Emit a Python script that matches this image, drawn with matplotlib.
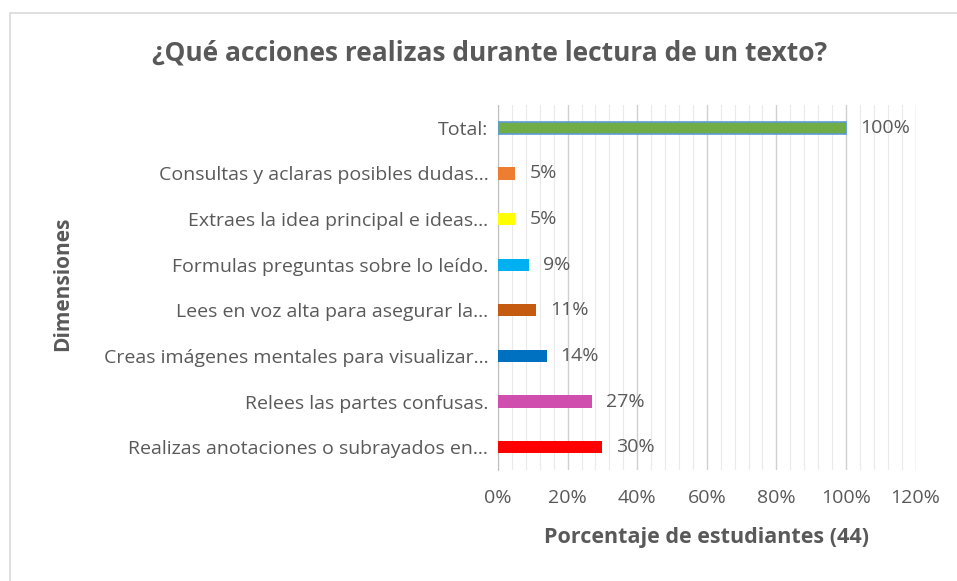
import matplotlib.pyplot as plt
from matplotlib.ticker import MultipleLocator, PercentFormatter
from matplotlib.patches import Rectangle

# Data (bottom to top)
categories = [
    "Realizas anotaciones o subrayados en...",
    "Relees las partes confusas.",
    "Creas imágenes mentales para visualizar...",
    "Lees en voz alta para asegurar la...",
    "Formulas preguntas sobre lo leído.",
    "Extraes la idea principal e ideas...",
    "Consultas y aclaras posibles dudas...",
    "Total:",
]
values = [30, 27, 14, 11, 9, 5, 5, 100]
colors = ["#FF0000", "#D04FAE", "#0070C0", "#C55A11",
          "#00B0F0", "#FFFF00", "#ED7D31", "#70AD47"]

plt.rcParams['font.family'] = ['Open Sans', 'DejaVu Sans']
gray = "#595959"

fig = plt.figure(figsize=(9.57, 5.81), dpi=100)
ax = fig.add_axes([0.5204, 0.191, 0.4363, 0.6283])

bars = ax.barh(categories, values, height=0.27, color=colors, zorder=3)
bars[-1].set_edgecolor("#5B9BD5")
bars[-1].set_linewidth(1.2)

ax.set_xlim(0, 120)
ax.set_ylim(-0.5, len(categories) - 0.5)
ax.xaxis.set_major_locator(MultipleLocator(20))
ax.xaxis.set_minor_locator(MultipleLocator(4))
ax.xaxis.set_major_formatter(PercentFormatter(decimals=0))
ax.grid(axis='x', which='major', color="#D0D0D0", linewidth=1, zorder=0)
ax.grid(axis='x', which='minor', color="#EAEAEA", linewidth=0.8, zorder=0)
ax.tick_params(axis='both', which='both', length=0, colors=gray, labelsize=14)
ax.tick_params(axis='x', pad=14)
ax.tick_params(axis='y', pad=7)
for s in ['top', 'right', 'bottom']:
    ax.spines[s].set_visible(False)
ax.spines['left'].set_color("#BFBFBF")

for i, v in enumerate(values):
    ax.text(v + 4, i, f"{v}%", va='center', ha='left', color=gray, fontsize=14)

ax.set_xlabel("Porcentaje de estudiantes (44)", color=gray, fontsize=15.5,
              fontweight='bold', labelpad=14)
fig.text(0.065, 0.512, "Dimensiones", rotation=90, color=gray, fontsize=15,
         fontweight='bold', ha='center', va='center')
fig.text(0.512, 0.908, "¿Qué acciones realizas durante lectura de un texto?",
         color=gray, fontsize=19, fontweight='bold', ha='center', va='center')

# outer chart border (top and left visible)
fig.patches.append(Rectangle((0.0105, -0.05), 1.1, 1.0276, transform=fig.transFigure,
                             fill=False, edgecolor="#D9D9D9", linewidth=1.2))

fig.savefig("out.png", dpi=100, facecolor="white")
